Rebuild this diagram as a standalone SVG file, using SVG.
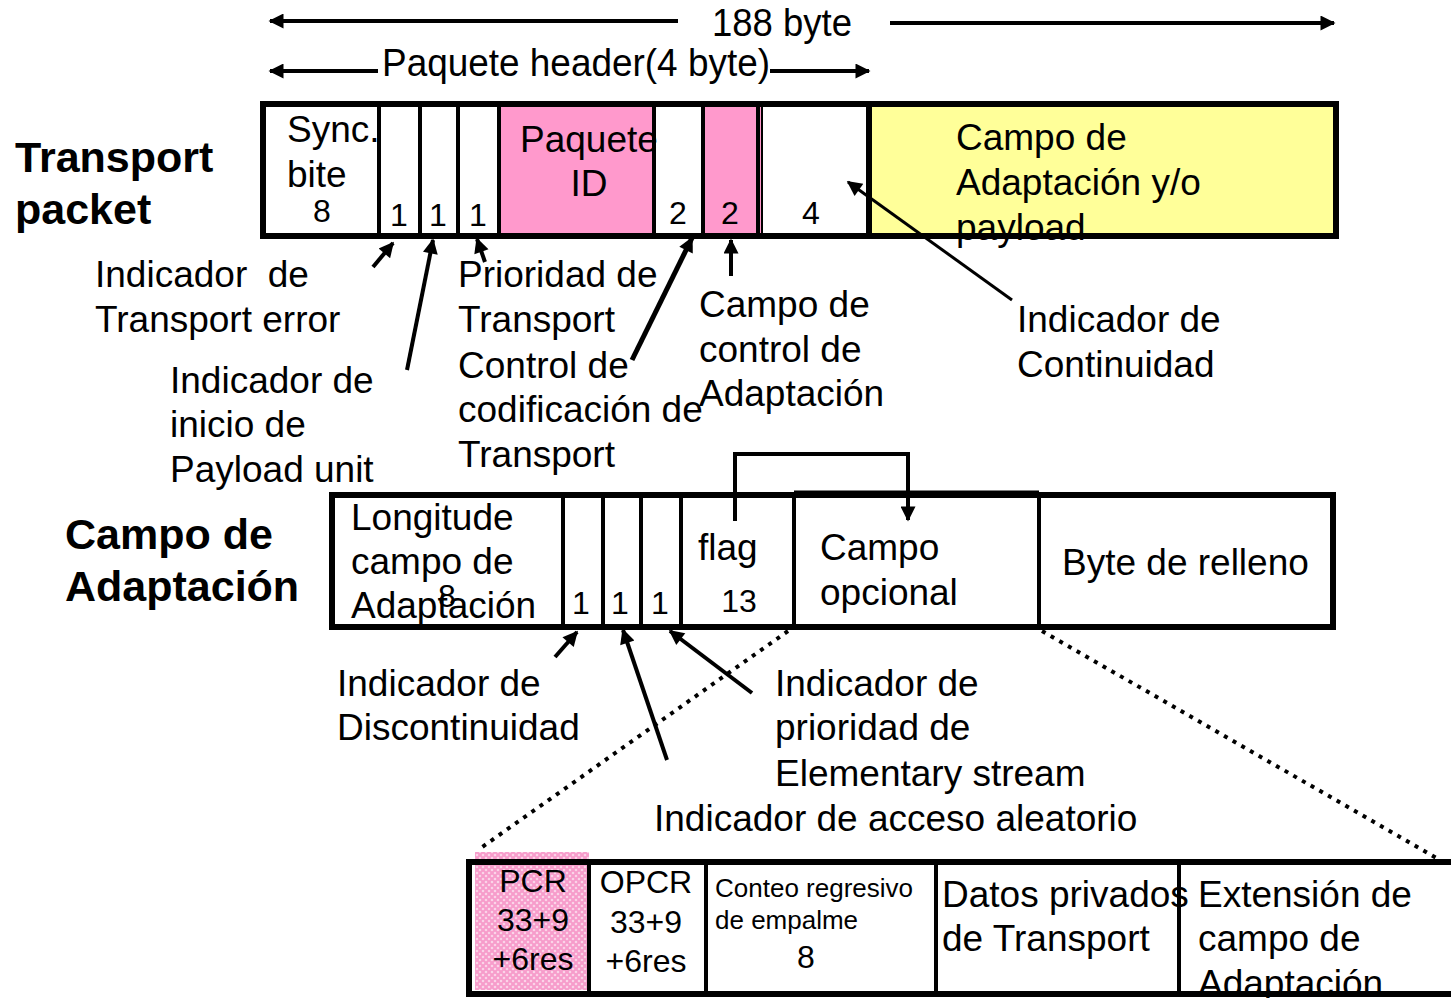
<svg xmlns="http://www.w3.org/2000/svg" width="1451" height="998" viewBox="0 0 1451 998">
  <style>
    text { font-family: "Liberation Sans", Arial, sans-serif; fill: #000; }
    .t { font-size: 37px; }
    .n { font-size: 32px; }
    .s { font-size: 26px; }
    .b { font-size: 43px; font-weight: bold; }
    .mid { text-anchor: middle; }
    .box { fill: none; stroke: #000; stroke-width: 6; }
    .div { stroke: #000; stroke-width: 4; }
    .arr { stroke: #000; stroke-width: 4; fill: none; }
    .dot { stroke: #000; stroke-width: 4; stroke-dasharray: 4 6; fill: none; }
  </style>
  <defs>
    <marker id="ah" viewBox="0 0 10 10" refX="9" refY="5" markerWidth="18" markerHeight="15" markerUnits="userSpaceOnUse" orient="auto-start-reverse">
      <path d="M0,0 L10,5 L0,10 z" fill="#000"/>
    </marker>
    <pattern id="pinkdots" width="6" height="6" patternUnits="userSpaceOnUse">
      <rect width="6" height="6" fill="#f79ccb"/>
      <circle cx="3" cy="3" r="1.3" fill="#fbd3e8"/>
      <circle cx="0" cy="0" r="1.3" fill="#fbd3e8"/>
      <circle cx="6" cy="6" r="1.3" fill="#fbd3e8"/>
      <circle cx="0" cy="6" r="1.3" fill="#fbd3e8"/>
      <circle cx="6" cy="0" r="1.3" fill="#fbd3e8"/>
    </pattern>
  </defs>

  <!-- size rulers -->
  <g id="ruler-188">
    <line class="arr" x1="270" y1="21" x2="678" y2="21" marker-start="url(#ah)"/>
    <line class="arr" x1="890" y1="23" x2="1334" y2="23" marker-end="url(#ah)"/>
    <text x="712" y="36" style="font-size:38px" textLength="140" lengthAdjust="spacingAndGlyphs">188 byte</text>
  </g>
  <g id="ruler-header">
    <line class="arr" x1="270" y1="71" x2="378" y2="71" marker-start="url(#ah)"/>
    <line class="arr" x1="770" y1="71" x2="869" y2="71" marker-end="url(#ah)"/>
    <text x="382" y="76" style="font-size:38px" textLength="388" lengthAdjust="spacingAndGlyphs">Paquete header(4 byte)</text>
  </g>

  <!-- transport packet -->
  <g id="transport-packet">
    <text class="b" x="15" y="172">Transport</text>
    <text class="b" x="15" y="224">packet</text>
    <rect x="500" y="104" width="154" height="132" fill="#ff99cc"/>
    <rect x="704" y="104" width="58" height="132" fill="#ff99cc"/>
    <rect x="869" y="104" width="467" height="132" fill="#ffff99"/>
    <line class="div" x1="379" y1="104" x2="379" y2="236"/>
    <line class="div" x1="420" y1="104" x2="420" y2="236"/>
    <line class="div" x1="458" y1="104" x2="458" y2="236"/>
    <line class="div" x1="499" y1="104" x2="499" y2="236"/>
    <line class="div" x1="654" y1="104" x2="654" y2="236"/>
    <line class="div" x1="703" y1="104" x2="703" y2="236"/>
    <line class="div" x1="758" y1="104" x2="758" y2="236"/>
    <line class="div" x1="762" y1="104" x2="762" y2="236" style="stroke-width:2"/>
    <line class="div" x1="869" y1="104" x2="869" y2="236" style="stroke-width:6"/>
    <rect class="box" x="263" y="104" width="1073" height="132"/>
    <text class="t" x="287" y="142">Sync.</text>
    <text class="t" x="287" y="187">bite</text>
    <text class="n mid" x="322" y="222">8</text>
    <text class="n mid" x="399" y="226">1</text>
    <text class="n mid" x="438" y="226">1</text>
    <text class="n mid" x="478" y="226">1</text>
    <text class="t" x="520" y="152">Paquete</text>
    <text class="t mid" x="589" y="196">ID</text>
    <text class="n mid" x="678" y="224">2</text>
    <text class="n mid" x="730" y="224">2</text>
    <text class="n mid" x="811" y="224">4</text>
    <text class="t" x="956" y="150">Campo de</text>
    <text class="t" x="956" y="195">Adaptación y/o</text>
    <text class="t" x="956" y="240">payload</text>
  </g>

  <!-- field labels under the transport packet -->
  <g id="label-transport-error">
    <text class="t" x="95" y="287" style="white-space:pre" xml:space="preserve">Indicador  de</text>
    <text class="t" x="95" y="332">Transport error</text>
  </g>
  <g id="label-inicio-payload">
    <text class="t" x="170" y="393">Indicador de</text>
    <text class="t" x="170" y="437">inicio de</text>
    <text class="t" x="170" y="482">Payload unit</text>
  </g>
  <g id="label-prioridad">
    <text class="t" x="458" y="287">Prioridad de</text>
    <text class="t" x="458" y="332">Transport</text>
    <text class="t" x="458" y="378">Control de</text>
    <text class="t" x="458" y="422">codificación de</text>
    <text class="t" x="458" y="467">Transport</text>
  </g>
  <g id="label-control-adaptacion">
    <text class="t" x="699" y="317">Campo de</text>
    <text class="t" x="699" y="362">control de</text>
    <text class="t" x="699" y="406">Adaptación</text>
  </g>
  <g id="label-continuidad">
    <text class="t" x="1017" y="332">Indicador de</text>
    <text class="t" x="1017" y="377">Continuidad</text>
  </g>

  <!-- adaptation field -->
  <g id="adaptation-field">
    <text class="b" x="65" y="549">Campo de</text>
    <text class="b" x="65" y="601">Adaptación</text>
    <line class="div" x1="563" y1="495" x2="563" y2="627"/>
    <line class="div" x1="603" y1="495" x2="603" y2="627"/>
    <line class="div" x1="641" y1="495" x2="641" y2="627"/>
    <line class="div" x1="681" y1="495" x2="681" y2="627"/>
    <line class="div" x1="794" y1="493" x2="794" y2="627"/>
    <line class="div" x1="1039" y1="493" x2="1039" y2="627"/>
    <line class="div" x1="794" y1="493" x2="1039" y2="493" style="stroke-width:5"/>
    <rect class="box" x="332" y="495" width="1001" height="132"/>
    <text class="t" x="351" y="530">Longitude</text>
    <text class="t" x="351" y="574">campo de</text>
    <text class="t" x="351" y="618">Adaptación</text>
    <text class="n mid" x="447" y="607">8</text>
    <text class="n mid" x="581" y="614">1</text>
    <text class="n mid" x="620" y="614">1</text>
    <text class="n mid" x="660" y="614">1</text>
    <text class="t" x="698" y="560">flag</text>
    <text class="n mid" x="739" y="612">13</text>
    <text class="t" x="820" y="560">Campo</text>
    <text class="t" x="820" y="605">opcional</text>
    <text class="t" x="1062" y="575">Byte de relleno</text>
  </g>

  <!-- labels under the adaptation field -->
  <g id="label-discontinuidad">
    <text class="t" x="337" y="696">Indicador de</text>
    <text class="t" x="337" y="740">Discontinuidad</text>
  </g>
  <g id="label-prioridad-es">
    <text class="t" x="775" y="696">Indicador de</text>
    <text class="t" x="775" y="740">prioridad de</text>
    <text class="t" x="775" y="786">Elementary stream</text>
  </g>
  <g id="label-acceso-aleatorio">
    <text class="t" x="654" y="831">Indicador de acceso aleatorio</text>
  </g>

  <!-- optional field breakdown -->
  <g id="optional-field">
    <rect x="475" y="852" width="114" height="138" fill="url(#pinkdots)"/>
    <line class="div" x1="589" y1="862" x2="589" y2="994"/>
    <line class="div" x1="706" y1="862" x2="706" y2="994"/>
    <line class="div" x1="936" y1="862" x2="936" y2="994"/>
    <line class="div" x1="1179" y1="862" x2="1179" y2="994"/>
    <rect class="box" x="469" y="862" width="1000" height="132"/>
    <text class="n mid" x="533" y="892">PCR</text>
    <text class="n mid" x="533" y="931">33+9</text>
    <text class="n mid" x="533" y="970">+6res</text>
    <text class="n mid" x="646" y="893">OPCR</text>
    <text class="n mid" x="646" y="933">33+9</text>
    <text class="n mid" x="646" y="972">+6res</text>
    <text class="s" x="715" y="897">Conteo regresivo</text>
    <text class="s" x="715" y="929">de empalme</text>
    <text class="n mid" x="806" y="968">8</text>
    <text class="t" x="942" y="907">Datos privados</text>
    <text class="t" x="942" y="951">de Transport</text>
    <text class="t" x="1198" y="907">Extensión de</text>
    <text class="t" x="1198" y="951">campo de</text>
    <text class="t" x="1198" y="996">Adaptación</text>
  </g>

  <!-- connectors -->
  <g id="connectors">
    <line class="arr" x1="373" y1="267" x2="393" y2="243" marker-end="url(#ah)"/>
    <line class="arr" x1="407" y1="370" x2="433" y2="240" marker-end="url(#ah)"/>
    <line class="arr" x1="485" y1="262" x2="477" y2="239" marker-end="url(#ah)"/>
    <line class="arr" x1="632" y1="360" x2="692" y2="238" marker-end="url(#ah)" style="stroke-width:5"/>
    <line class="arr" x1="731" y1="276" x2="731" y2="240" marker-end="url(#ah)"/>
    <line class="arr" x1="1012" y1="300" x2="848" y2="182" marker-end="url(#ah)" style="stroke-width:3"/>
    <line class="arr" x1="555" y1="657" x2="577" y2="632" marker-end="url(#ah)"/>
    <line class="arr" x1="667" y1="760" x2="623" y2="630" marker-end="url(#ah)"/>
    <line class="arr" x1="752" y1="693" x2="670" y2="631" marker-end="url(#ah)"/>
    <polyline class="arr" points="735,521 735,454 908,454 908,520" marker-end="url(#ah)"/>
    <line class="dot" x1="788" y1="631" x2="478" y2="850"/>
    <line class="dot" x1="1042" y1="631" x2="1440" y2="860"/>
  </g>
</svg>
